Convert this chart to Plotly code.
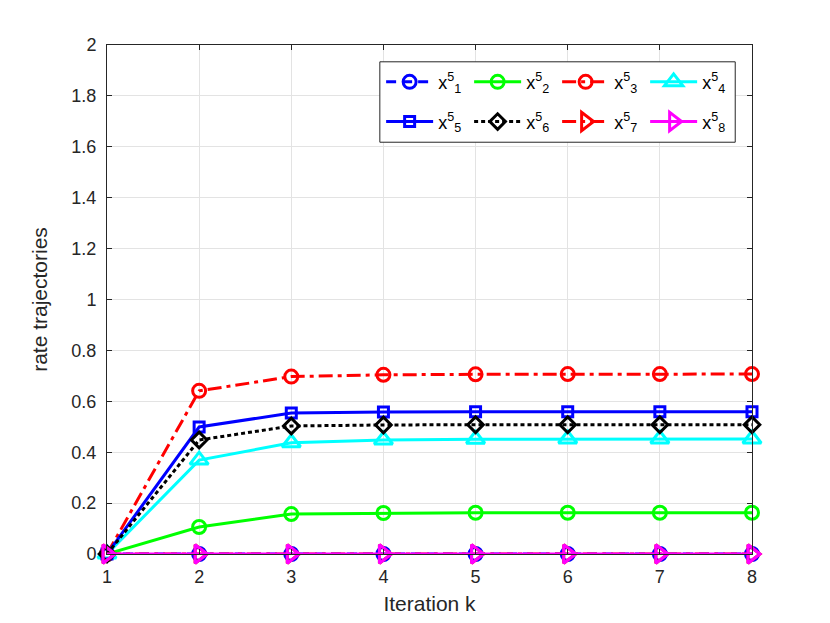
import plotly.graph_objects as go

# Iteration index
iterations = [1, 2, 3, 4, 5, 6, 7, 8]

# Rate trajectories
x1 = [0, 0, 0, 0, 0, 0, 0, 0]
x2 = [0, 0.106, 0.157, 0.161, 0.162, 0.162, 0.162, 0.162]
x3 = [0, 0.641, 0.697, 0.704, 0.706, 0.707, 0.707, 0.707]
x4 = [0, 0.369, 0.437, 0.448, 0.451, 0.452, 0.452, 0.452]
x5 = [0, 0.499, 0.554, 0.558, 0.559, 0.559, 0.559, 0.559]
x6 = [0, 0.448, 0.503, 0.507, 0.508, 0.508, 0.508, 0.508]
x7 = [0, 0, 0, 0, 0, 0, 0, 0]
x8 = [0, 0, 0, 0, 0, 0, 0, 0]

y_ticks = [0, 0.2, 0.4, 0.6, 0.8, 1, 1.2, 1.4, 1.6, 1.8, 2]
y_tick_text = ['0', '0.2', '0.4', '0.6', '0.8', '1', '1.2', '1.4', '1.6', '1.8', '2']

# MATLAB-like line styles
DASH = '10px,6px'
DOT = '4px,3px'
DASHDOT = '14px,5px,4px,5px'

# name, values, colour, dash, marker, marker size, legend row
series = [
    ('x<sup>5</sup><sub>1</sub>', x1, '#0000ff', DASH, 'circle-open', 13, 'legend'),
    ('x<sup>5</sup><sub>2</sub>', x2, '#00ff00', 'solid', 'circle-open', 13, 'legend'),
    ('x<sup>5</sup><sub>3</sub>', x3, '#ff0000', DASHDOT, 'circle-open', 13, 'legend'),
    ('x<sup>5</sup><sub>4</sub>', x4, '#00ffff', 'solid', 'triangle-up-open', 16, 'legend'),
    ('x<sup>5</sup><sub>5</sub>', x5, '#0000ff', 'solid', 'square-open', 10, 'legend2'),
    ('x<sup>5</sup><sub>6</sub>', x6, '#000000', DOT, 'diamond-open', 12, 'legend2'),
    ('x<sup>5</sup><sub>7</sub>', x7, '#ff0000', DASHDOT, 'triangle-right-open', 16, 'legend2'),
    ('x<sup>5</sup><sub>8</sub>', x8, '#ff00ff', 'solid', 'triangle-right-open', 16, 'legend2'),
]

fig = go.Figure()
for name, vals, color, dash, symbol, msize, leg in series:
    fig.add_trace(go.Scatter(
        x=iterations, y=vals, name=name, mode='lines+markers',
        line=dict(color=color, width=3, dash=dash),
        marker=dict(symbol=symbol, size=msize, color=color, line=dict(width=3, color=color)),
        cliponaxis=False, legend=leg,
    ))

font_color = '#262626'
axis_common = dict(
    showgrid=True, gridcolor='#e3e3e3', gridwidth=1,
    showline=True, linecolor=font_color, linewidth=1, mirror='ticks',
    ticks='inside', ticklen=5, tickcolor=font_color,
    tickfont=dict(size=18, color=font_color),
    ticklabelstandoff=6,
    zeroline=False,
)

legend_common = dict(
    orientation='h', bgcolor='rgba(0,0,0,0)', borderwidth=0,
    font=dict(family='Liberation Sans, Arial, sans-serif', size=18, color='#000000'),
    itemwidth=47, entrywidthmode='pixels', entrywidth=26,
    xanchor='left', yanchor='middle', itemclick=False,
)

fig.update_layout(
    width=830, height=623,
    # the page body adds an 8px offset, so margins are shifted to compensate
    margin=dict(l=99, r=86, t=37, b=77),
    paper_bgcolor='white', plot_bgcolor='white',
    font=dict(family='Liberation Sans, Arial, sans-serif', color=font_color),
    xaxis=dict(range=[1, 8], tickvals=iterations,
               title=dict(text='Iteration k', font=dict(size=21, color=font_color), standoff=10),
               **axis_common),
    yaxis=dict(range=[0, 2], tickvals=y_ticks, ticktext=y_tick_text,
               title=dict(text='rate trajectories', font=dict(size=21, color=font_color), standoff=18),
               **axis_common),
    legend=dict(x=0.425, y=0.927, **legend_common),
    legend2=dict(x=0.425, y=0.849, **legend_common),
    shapes=[dict(type='rect', xref='paper', yref='paper',
                 x0=0.423, x1=0.974, y0=0.809, y1=0.967,
                 line=dict(color=font_color, width=1), fillcolor='white', layer='above')],
)

fig.write_html("out.html")
